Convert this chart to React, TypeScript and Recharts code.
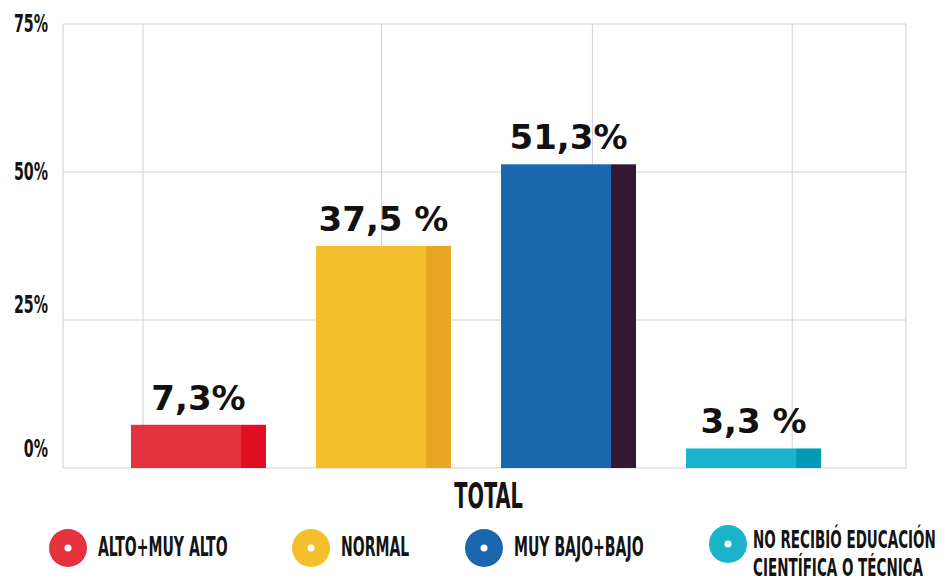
import React from "react";
import { BarChart, Bar, XAxis, YAxis, CartesianGrid, Legend } from "recharts";

// valores
const categories = ["TOTAL"];
const seriesKeys = ["alto", "normal", "bajo", "noRecibio"];
const seriesValues = [7.3, 37.5, 51.3, 3.3];
const valueLabels = ["7,3%", "37,5 %", "51,3%", "3,3 %"];
const legendLines = [
	["ALTO+MUY ALTO"],
	["NORMAL"],
	["MUY BAJO+BAJO"],
	["NO RECIBIÓ EDUCACIÓN", "CIENTÍFICA O TÉCNICA"],
];
const yTicks = [0, 25, 50, 75];
// posición de las líneas verticales de la rejilla, en % del ancho del área
const gridColumns = [0, 9.5, 37.8, 62.8, 86.5, 100];

const fills = ["#E5323F", "#F4BE2C", "#1A67AD", "#19B3CB"];
const shades = ["#E20F22", "#E8A722", "#331833", "#009CB6"];

const NARROW = "'Liberation Sans Narrow', 'DejaVu Sans Condensed', 'DejaVu Sans', sans-serif";
const tickNudge: Record<number, number> = { 0: -11, 25: -7, 50: 8, 75: 8 };
const legendX = [68, 311, 484, 728];

const data = categories.map((name) => {
	const row: Record<string, string | number> = { name };
	seriesKeys.forEach((k, i) => (row[k] = seriesValues[i]));
	return row;
});

function CondensedText({ x, y, size, squeeze, anchor = "start", children }: any) {
	return (
		<text
			transform={`translate(${x},${y}) scale(${squeeze},1)`}
			textAnchor={anchor}
			fontFamily={NARROW}
			fontWeight="bold"
			fontSize={size}
			fill="#141414"
		>
			{children}
		</text>
	);
}

const YTick = ({ y, payload }: any) => (
	<CondensedText x={48} y={y + tickNudge[payload.value]} size={24} squeeze={0.66} anchor="end">
		{`${payload.value}%`}
	</CondensedText>
);

const XTick = ({ x, y, payload }: any) => (
	<CondensedText x={x + 13} y={y + 40} size={36} squeeze={0.6} anchor="middle">
		{payload.value}
	</CondensedText>
);

const makeShape = (i: number) => (props: any) => {
	const { x, y, width, height } = props;
	const strip = width * 0.185;
	return (
		<g>
			<rect x={x} y={y} width={width - strip} height={height} fill={fills[i]} />
			<rect x={x + width - strip} y={y} width={strip} height={height} fill={shades[i]} />
		</g>
	);
};

const makeLabel = (i: number) => (props: any) => {
	const { x, y, width } = props;
	return (
		<text
			x={x + width / 2}
			y={y - 15}
			textAnchor="middle"
			fontFamily="'DejaVu Sans', sans-serif"
			fontWeight="bold"
			fontSize={34}
			fill="#111"
		>
			{valueLabels[i]}
		</text>
	);
};

const LegendContent = () => (
	<svg width={952} height={68} style={{ display: "block" }}>
		{legendLines.map((lines, i) => {
			const two = lines.length > 1;
			const cy = two ? 31 : 35;
			return (
				<g key={i}>
					<circle cx={legendX[i]} cy={cy} r={19} fill={fills[i]} />
					<circle cx={legendX[i]} cy={cy} r={3.5} fill="#fff" />
					{lines.map((t, j) => (
						<CondensedText
							key={j}
							x={legendX[i] + (two ? 25 : 30)}
							y={two ? 35 + j * 28 : 43}
							size={two ? 25 : 26}
							squeeze={0.6}
						>
							{t}
						</CondensedText>
					))}
				</g>
			);
		})}
	</svg>
);

export default function App() {
	return (
		<div style={{ position: "absolute", left: 0, top: 0, width: 952, height: 581, background: "#fff" }}>
			<BarChart
				width={952}
				height={581}
				data={data}
				margin={{ top: 24, right: 46, bottom: 0, left: 0 }}
				barGap={50}
			>
				<CartesianGrid
					stroke="#d0d0d0"
					verticalCoordinatesGenerator={({ offset }: any) =>
						gridColumns.map((p) => offset.left + (p / 100) * offset.width)
					}
				/>
				<XAxis
					dataKey="name"
					height={45}
					padding={{ left: 0, right: 18 }}
					axisLine={false}
					tickLine={false}
					tickSize={0}
					tickMargin={0}
					tick={<XTick />}
				/>
				<YAxis
					width={63}
					domain={[0, 75]}
					ticks={yTicks}
					axisLine={false}
					tickLine={false}
					tick={<YTick />}
				/>
				<Legend verticalAlign="bottom" content={LegendContent} wrapperStyle={{ left: 0, width: 952 }} />
				{seriesKeys.map((k, i) => (
					<Bar
						key={k}
						dataKey={k}
						name={legendLines[i].join(" ")}
						barSize={135}
						fill={fills[i]}
						shape={makeShape(i)}
						label={makeLabel(i)}
						isAnimationActive={false}
					/>
				))}
			</BarChart>
		</div>
	);
}
